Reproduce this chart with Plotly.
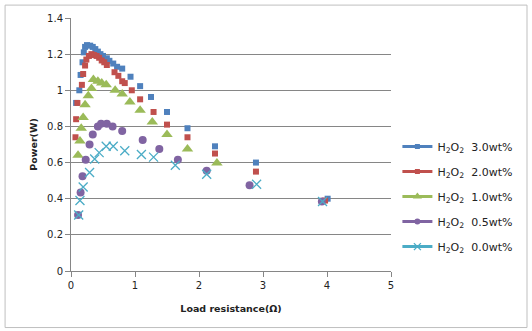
import plotly.graph_objects as go

# Load resistance (ohm) and power output (W) for each H2O2 concentration
r_30 = [0.08, 0.13, 0.15, 0.18, 0.20, 0.22, 0.25, 0.30, 0.34, 0.38, 0.42, 0.46, 0.50,
        0.56, 0.60, 0.66, 0.72, 0.80, 0.93, 1.08, 1.25, 1.50, 1.82, 2.25, 2.89, 4.01]
p_30 = [0.93, 1.00, 1.085, 1.155, 1.21, 1.24, 1.25, 1.247, 1.24, 1.228, 1.214, 1.20, 1.19,
        1.177, 1.163, 1.148, 1.13, 1.12, 1.075, 1.023, 0.963, 0.88, 0.79, 0.69, 0.60, 0.40]

r_20 = [0.07, 0.08, 0.10, 0.17, 0.19, 0.22, 0.24, 0.28, 0.32, 0.36, 0.40, 0.44, 0.48,
        0.52, 0.56, 0.68, 0.74, 0.80, 0.84, 0.95, 1.08, 1.29, 1.50, 1.82, 2.25, 2.89, 3.97]
p_20 = [0.74, 0.84, 0.93, 1.03, 1.09, 1.137, 1.17, 1.19, 1.20, 1.195, 1.19, 1.18, 1.165,
        1.155, 1.14, 1.10, 1.08, 1.05, 1.04, 1.00, 0.95, 0.88, 0.81, 0.74, 0.65, 0.55, 0.39]

r_10 = [0.11, 0.14, 0.16, 0.19, 0.22, 0.27, 0.32, 0.35, 0.42, 0.48, 0.55, 0.69, 0.80,
        0.92, 1.08, 1.27, 1.50, 1.82, 2.28]
p_10 = [0.64, 0.72, 0.79, 0.85, 0.92, 0.97, 1.01, 1.06, 1.05, 1.04, 1.03, 1.00, 0.98,
        0.935, 0.89, 0.825, 0.755, 0.675, 0.597]

r_05 = [0.11, 0.15, 0.18, 0.23, 0.29, 0.34, 0.42, 0.47, 0.56, 0.65, 0.80, 1.12, 1.38,
        1.67, 2.12, 2.79, 3.92]
p_05 = [0.31, 0.435, 0.525, 0.615, 0.70, 0.755, 0.80, 0.815, 0.815, 0.80, 0.775, 0.725,
        0.675, 0.615, 0.555, 0.475, 0.385]

r_00 = [0.12, 0.14, 0.19, 0.29, 0.37, 0.44, 0.55, 0.66, 0.84, 1.10, 1.29, 1.63, 2.12,
        2.90, 3.93]
p_00 = [0.31, 0.39, 0.465, 0.545, 0.62, 0.655, 0.69, 0.69, 0.665, 0.645, 0.63, 0.585,
        0.535, 0.48, 0.385]

sub = "H<sub>2</sub>O<sub>2</sub>\u00a0\u00a0"
names = [sub + "3.0wt%", sub + "2.0wt%", sub + "1.0wt%", sub + "0.5wt%", sub + "0.0wt%"]

x_ticks = [0, 1, 2, 3, 4, 5]
y_ticks = [0, 0.2, 0.4, 0.6, 0.8, 1.0, 1.2, 1.4]
y_labels = ["0", "0.2", "0.4", "0.6", "0.8", "1", "1.2", "1.4"]

series = [
    (r_30, p_30, "#4F81BD", dict(symbol="square", size=6)),
    (r_20, p_20, "#C0504D", dict(symbol="square", size=6)),
    (r_10, p_10, "#9BBB59", dict(symbol="triangle-up", size=10)),
    (r_05, p_05, "#8064A2", dict(symbol="circle", size=8)),
    (r_00, p_00, "#4BACC6", dict(symbol="x-thin", size=9)),
]

fig = go.Figure()

for i, (xs, ys, col, mk) in enumerate(series):
    marker = dict(color=col, **mk)
    if mk["symbol"] == "x-thin":
        marker["line"] = dict(color=col, width=1.3)
    else:
        marker["line"] = dict(width=0)
    # scatter points
    fig.add_trace(go.Scatter(x=xs, y=ys, mode="markers", marker=marker,
                             showlegend=False, hoverinfo="skip"))
    # legend entry drawn as line with marker
    leg_marker = dict(marker)
    leg_marker["size"] = max(mk["size"] - 2, 5)
    fig.add_trace(go.Scatter(x=[None], y=[None], mode="lines+markers", name=names[i],
                             marker=leg_marker, line=dict(color=col, width=3),
                             legendgroup=f"g{i}", showlegend=True))

axis_col = "#868686"
fig.update_layout(
    width=532, height=331,
    margin=dict(l=71, r=141, t=16, b=60),
    paper_bgcolor="white", plot_bgcolor="white",
    font=dict(family="DejaVu Sans", size=10, color="#222222"),
    xaxis=dict(range=[0, 5], tickvals=x_ticks, ticktext=[str(v) for v in x_ticks],
               showgrid=False, zeroline=False, showline=True, linecolor=axis_col,
               linewidth=1, ticks="outside", ticklen=5, tickcolor=axis_col,
               title=dict(text="<b>Load resistance(Ω)</b>", font=dict(size=9.5), standoff=15)),
    yaxis=dict(range=[0, 1.4], tickvals=y_ticks, ticktext=y_labels,
               showgrid=True, gridcolor=axis_col, gridwidth=1, zeroline=False,
               showline=True, linecolor=axis_col, linewidth=1, ticks="outside",
               ticklen=5, tickcolor=axis_col,
               title=dict(text="<b>Power(W)</b>", font=dict(size=9.5), standoff=7)),
    legend=dict(x=1.02, xanchor="left", y=0.294, yanchor="middle",
                font=dict(size=11, color="#222222"), tracegroupgap=6,
                bgcolor="rgba(0,0,0,0)", itemwidth=30),
    showlegend=True,
    shapes=[dict(type="rect", xref="paper", yref="paper",
                 x0=-0.206, x1=1.425, y0=-0.2235, y1=1.051,
                 line=dict(color="#bfbfbf", width=1), fillcolor="rgba(0,0,0,0)",
                 layer="below")],
)

fig.write_html("out.html")
